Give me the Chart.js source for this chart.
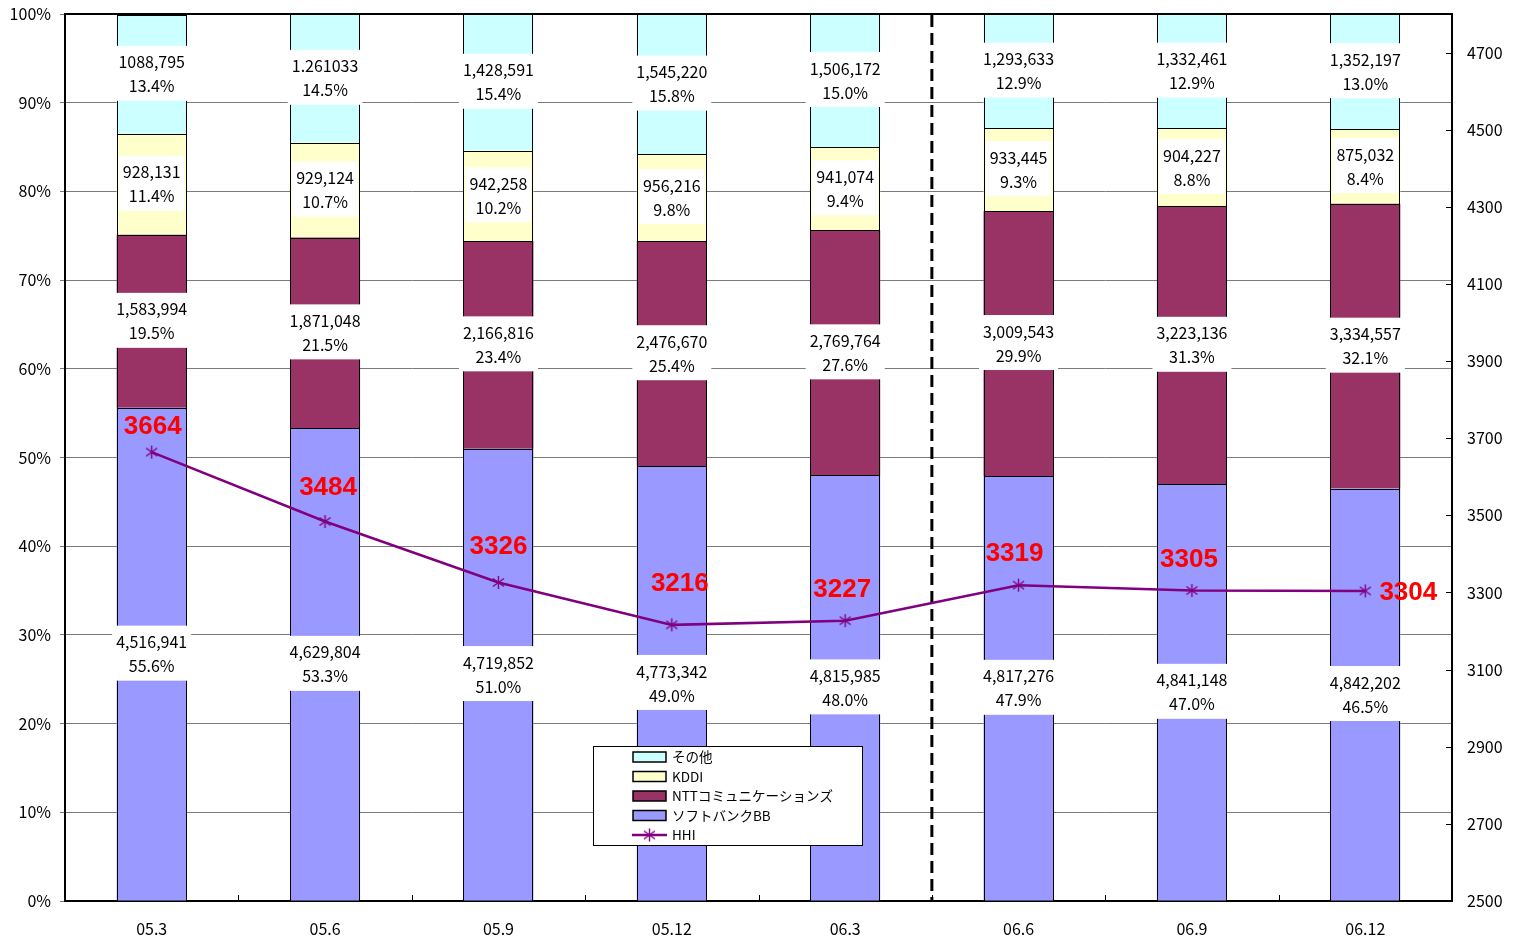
<!DOCTYPE html>
<html>
<head>
<meta charset="utf-8">
<script src="https://cdn.jsdelivr.net/npm/chart.js@4"></script>
<style>
  html, body { margin: 0; padding: 0; background: #fff; }
  #wrap { width: 1513px; height: 938px; }
</style>
</head>
<body>
<div id="wrap"><canvas id="c" width="1513" height="938"></canvas></div>
<script>
// Quarterly broadband subscriber shares by carrier, with HHI on the right axis
const categories = ['05.3', '05.6', '05.9', '05.12', '06.3', '06.6', '06.9', '06.12'];

const softbankPct = [55.6, 53.3, 51.0, 49.0, 48.0, 47.9, 47.0, 46.5];
const nttPct      = [19.5, 21.5, 23.4, 25.4, 27.6, 29.9, 31.3, 32.1];
const kddiPct     = [11.4, 10.7, 10.2, 9.8, 9.4, 9.3, 8.8, 8.4];
const otherPct    = [13.4, 14.5, 15.4, 15.8, 15.0, 12.9, 12.9, 13.0];

const softbankSubs = ['4,516,941', '4,629,804', '4,719,852', '4,773,342', '4,815,985', '4,817,276', '4,841,148', '4,842,202'];
const nttSubs      = ['1,583,994', '1,871,048', '2,166,816', '2,476,670', '2,769,764', '3,009,543', '3,223,136', '3,334,557'];
const kddiSubs     = ['928,131', '929,124', '942,258', '956,216', '941,074', '933,445', '904,227', '875,032'];
const otherSubs    = ['1088,795', '1.261033', '1,428,591', '1,545,220', '1,506,172', '1,293,633', '1,332,461', '1,352,197'];

const hhi = [3664, 3484, 3326, 3216, 3227, 3319, 3305, 3304];

const pctTicks = [0, 10, 20, 30, 40, 50, 60, 70, 80, 90, 100];
const hhiTicks = [2500, 2700, 2900, 3100, 3300, 3500, 3700, 3900, 4100, 4300, 4500, 4700];

// Per-point nudges for the HHI value labels [dx, dy]
const hhiLabelNudge = [[1, -25], [3, -34], [0, -36], [8, -41], [-3, -31], [-4, -31], [-3, -31], [43, 2]];

const FONT = "'Noto Sans CJK JP', 'Noto Sans', sans-serif";
const LINE_COLOR = '#800080';

// Asterisk marker (X with a vertical stroke)
function makeAsterisk() {
  const s = 15;
  const cv = document.createElement('canvas');
  cv.width = s; cv.height = s;
  const g = cv.getContext('2d');
  g.strokeStyle = LINE_COLOR;
  g.lineWidth = 1.4;
  g.beginPath();
  g.moveTo(7.5, 1); g.lineTo(7.5, 14);
  g.moveTo(2, 3.5); g.lineTo(13, 11.5);
  g.moveTo(2, 11.5); g.lineTo(13, 3.5);
  g.stroke();
  return cv;
}
const asterisk = makeAsterisk();

const segmentSets = [
  { subs: softbankSubs, pct: softbankPct },
  { subs: nttSubs, pct: nttPct },
  { subs: kddiSubs, pct: kddiPct },
  { subs: otherSubs, pct: otherPct }
];

const decorPlugin = {
  id: 'decor',
  beforeDatasetsDraw(chart) {
    const { ctx, chartArea: a, scales: { x } } = chart;
    // dashed divider between 06.3 and 06.6
    const xd = (x.getPixelForValue(4) + x.getPixelForValue(5)) / 2;
    ctx.save();
    ctx.strokeStyle = '#000';
    ctx.lineWidth = 3;
    ctx.setLineDash([12, 6]);
    ctx.beginPath();
    ctx.moveTo(xd, a.top + 1);
    ctx.lineTo(xd, a.bottom);
    ctx.stroke();
    ctx.restore();
  },
  beforeDatasetDraw(chart, args) {
    if (args.index !== 4) return;
    const { ctx } = chart;
    ctx.save();
    // crisp black outlines around every bar segment
    ctx.strokeStyle = '#000';
    ctx.lineWidth = 1;
    for (let d = 0; d < 4; d++) {
      chart.getDatasetMeta(d).data.forEach(bar => {
        const l = Math.round(bar.x - bar.width / 2) + 0.5;
        const r = Math.round(bar.x + bar.width / 2) - 0.5;
        const t = Math.round(bar.y) + 0.5;
        const b = Math.round(bar.base) + 0.5;
        ctx.strokeRect(l, t, r - l, b - t);
      });
    }
    // white boxes with subscriber count and share on each segment
    ctx.font = '16px ' + FONT;
    ctx.textAlign = 'center';
    ctx.textBaseline = 'middle';
    segmentSets.forEach((set, d) => {
      const meta = chart.getDatasetMeta(d);
      meta.data.forEach((bar, i) => {
        const yc = (bar.y + bar.base) / 2;
        const l1 = set.subs[i];
        const l2 = set.pct[i].toFixed(1) + '%';
        const w = Math.max(ctx.measureText(l1).width, ctx.measureText(l2).width) + 8;
        const h = 55;
        ctx.fillStyle = '#fff';
        ctx.fillRect(bar.x - w / 2, yc - h / 2 - 1, w, h);
        ctx.fillStyle = '#000';
        ctx.fillText(l1, bar.x, yc - 12);
        ctx.fillText(l2, bar.x, yc + 12);
      });
    });
    ctx.restore();
  },
  afterDatasetsDraw(chart) {
    const { ctx, chartArea: a, scales: { x, y1 } } = chart;
    ctx.save();
    // frame top edge
    ctx.strokeStyle = '#000';
    ctx.lineWidth = 2;
    ctx.beginPath();
    ctx.moveTo(a.left, a.top);
    ctx.lineTo(a.right, a.top);
    ctx.stroke();
    // inward tick marks: category boundaries and right axis
    ctx.lineWidth = 1;
    ctx.beginPath();
    for (let i = 1; i < categories.length; i++) {
      const xb = Math.round((x.getPixelForValue(i - 1) + x.getPixelForValue(i)) / 2) + 0.5;
      ctx.moveTo(xb, a.bottom);
      ctx.lineTo(xb, a.bottom - 6);
    }
    hhiTicks.forEach(v => {
      const yy = Math.round(y1.getPixelForValue(v)) + 0.5;
      ctx.moveTo(a.right, yy);
      ctx.lineTo(a.right - 6, yy);
    });
    ctx.stroke();
    // HHI value labels
    const meta = chart.getDatasetMeta(4);
    ctx.font = 'bold 26px "Liberation Sans", Arial, sans-serif';
    ctx.fillStyle = '#ff0000';
    ctx.textAlign = 'center';
    ctx.textBaseline = 'middle';
    meta.data.forEach((pt, i) => {
      const [dx, dy] = hhiLabelNudge[i];
      ctx.fillText(String(hhi[i]), pt.x + dx, pt.y + dy);
    });
    ctx.restore();
  },
  afterDraw(chart) {
    // legend box
    const { ctx } = chart;
    const bx = 593, by = 746, bw = 269, bh = 99;
    ctx.save();
    ctx.fillStyle = '#fff';
    ctx.fillRect(bx, by, bw, bh);
    ctx.strokeStyle = '#000';
    ctx.lineWidth = 1;
    ctx.strokeRect(bx + 0.5, by + 0.5, bw, bh);
    const order = [3, 2, 1, 0, 4];
    ctx.font = '13.5px ' + FONT;
    ctx.textBaseline = 'middle';
    ctx.textAlign = 'left';
    order.forEach((d, r) => {
      const ds = chart.data.datasets[d];
      const cy = by + 11 + r * 19.5;
      if (d < 4) {
        ctx.fillStyle = ds.backgroundColor;
        ctx.fillRect(633, cy - 5, 33, 10);
        ctx.lineWidth = 1.5;
        ctx.strokeStyle = '#000';
        ctx.strokeRect(633, cy - 5, 33, 10);
      } else {
        ctx.strokeStyle = LINE_COLOR;
        ctx.lineWidth = 2.5;
        ctx.beginPath();
        ctx.moveTo(632, cy);
        ctx.lineTo(667, cy);
        ctx.stroke();
        ctx.drawImage(asterisk, 649.5 - 7.5, cy - 7.5);
      }
      ctx.fillStyle = '#000';
      ctx.fillText(ds.label, 672, cy);
    });
    ctx.restore();
  }
};

const barCommon = {
  type: 'bar',
  yAxisID: 'y',
  borderColor: '#000',
  borderWidth: 0,
  borderSkipped: false,
  categoryPercentage: 1,
  barPercentage: 0.404,
  order: 1
};

new Chart(document.getElementById('c'), {
  data: {
    labels: categories,
    datasets: [
      Object.assign({ label: 'ソフトバンクBB', data: softbankPct, backgroundColor: '#9999ff' }, barCommon),
      Object.assign({ label: 'NTTコミュニケーションズ', data: nttPct, backgroundColor: '#993366' }, barCommon),
      Object.assign({ label: 'KDDI', data: kddiPct, backgroundColor: '#ffffcc' }, barCommon),
      Object.assign({ label: 'その他', data: otherPct, backgroundColor: '#ccffff' }, barCommon),
      {
        type: 'line',
        label: 'HHI',
        data: hhi,
        yAxisID: 'y1',
        borderColor: LINE_COLOR,
        borderWidth: 2.5,
        tension: 0,
        pointStyle: asterisk,
        pointRadius: 7,
        order: 0
      }
    ]
  },
  options: {
    responsive: false,
    animation: false,
    layout: { padding: { top: 14, left: 0, right: 0, bottom: 0 } },
    plugins: {
      legend: { display: false },
      tooltip: { enabled: false }
    },
    scales: {
      x: {
        stacked: true,
        offset: true,
        grid: { display: false, drawTicks: false },
        border: { display: true, color: '#000', width: 2 },
        ticks: { color: '#000', font: { family: FONT, size: 16 }, padding: 18, maxRotation: 0, autoSkip: false },
        afterFit(s) { s.height = 37; s.paddingLeft = 0; s.paddingRight = 0; }
      },
      y: {
        stacked: true,
        position: 'left',
        min: 0,
        max: 100,
        afterBuildTicks(s) { s.ticks = pctTicks.map(v => ({ value: v })); },
        ticks: { color: '#000', font: { family: FONT, size: 16 }, padding: 9, callback: v => v + '%' },
        grid: { color: '#7a7a7a', lineWidth: 1, drawTicks: true, tickLength: 5 },
        border: { color: '#000', width: 2 },
        afterFit(s) { s.width = 65; s.paddingTop = 0; s.paddingBottom = 0; }
      },
      y1: {
        position: 'right',
        min: 2500,
        max: 4800,
        afterBuildTicks(s) { s.ticks = hhiTicks.map(v => ({ value: v })); },
        ticks: { color: '#000', font: { family: FONT, size: 16 }, padding: 15, callback: v => String(v) },
        grid: { drawOnChartArea: false, drawTicks: false },
        border: { color: '#000', width: 2 },
        afterFit(s) { s.width = 61; s.paddingTop = 0; s.paddingBottom = 0; }
      }
    }
  },
  plugins: [decorPlugin]
});
</script>
</body>
</html>
